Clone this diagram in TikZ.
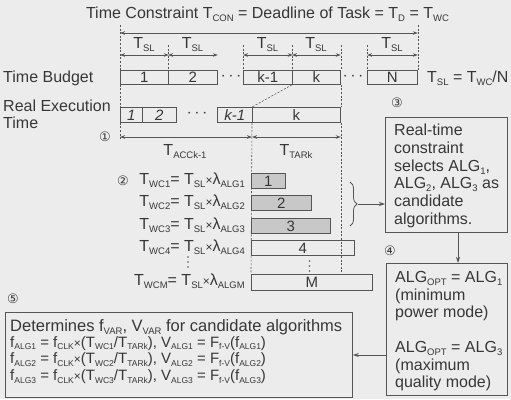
\documentclass[tikz,border=0pt]{standalone}
\usepackage{fontspec}
\setmainfont{Liberation Sans}
\newfontfamily\djv{DejaVu Sans}
\usetikzlibrary{arrows.meta,decorations.pathreplacing}
\newcommand\sbs[1]{\raisebox{-3pt}{\fontsize{9.5}{9.5}\selectfont #1}}
\newcommand\ssb[1]{\raisebox{-2.5pt}{\fontsize{8.5}{8.5}\selectfont #1}}
\newcommand\cnum[1]{{\djv\fontsize{13}{13}\selectfont #1}}
\newcommand\smx{{\fontsize{12}{12}\selectfont ×}}
\definecolor{bgc}{RGB}{236,236,236}
\definecolor{txtc}{RGB}{55,55,55}
\definecolor{linec}{RGB}{85,85,85}
\definecolor{barc}{RGB}{200,200,200}
\begin{document}
\begin{tikzpicture}[x=1pt,y=-1pt,
  every node/.style={text=txtc, font=\fontsize{16}{17}\selectfont},
  lbl/.style={inner sep=0pt},
  cell/.style={draw=linec, line width=0.8pt, inner sep=0pt, anchor=north west, minimum height=14pt, font=\fontsize{15}{15}\selectfont},
  bar/.style={cell, minimum height=15pt},
  gbar/.style={bar, fill=barc},
  guide/.style={draw=linec, line width=0.6pt, dash pattern=on 2pt off 1.6pt},
  dimline/.style={draw=linec, line width=0.8pt, {Stealth[length=5pt,width=3.6pt]}-{Stealth[length=5pt,width=3.6pt]}},
  conn/.style={draw=linec, line width=0.8pt, -{Stealth[length=6pt,width=4pt]}},
  box/.style={draw=linec, line width=0.9pt, inner sep=0pt, anchor=north west},
  para/.style={inner sep=0pt, anchor=north west, align=left},
  dotc/.style={fill=linec}
]
\fill[bgc] (0,0) rectangle (511,399);
\useasboundingbox (0,0) rectangle (511,399);

% title
\node[lbl, anchor=base] (title) at (267.5,18) {Time Constraint T\sbs{CON} = Deadline of Task = T\sbs{D} = T\sbs{WC}};

% row labels
\node[lbl, anchor=base west] (tb) at (3,82) {Time Budget};
\node[lbl, anchor=north west, align=left] (ret) at (3,100) {Real Execution\\Time};

% time budget cells
\node[cell, minimum width=48pt] (b1) at (120,70) {1};
\node[cell, minimum width=49pt] (b2) at (168,70) {2};
\node[cell, minimum width=49pt] (bk1) at (243,70) {k-1};
\node[cell, minimum width=48pt] (bk) at (292,70) {k};
\node[cell, minimum width=50pt] (bN) at (367,70) {N};
\node[lbl] (d1) at (231,77) {$\cdots$};
\node[lbl] (d2) at (353,77) {$\cdots$};
\node[lbl, anchor=base west] (tsl) at (427,82) {T\sbs{SL} = T\sbs{WC}/N};

% real execution cells
\node[bar, minimum width=22pt] (r1) at (120,107) {\itshape 1};
\node[bar, minimum width=34pt] (r2) at (142,107) {\itshape 2};
\node[bar, minimum width=35pt] (rk1) at (217,107) {\itshape k-1};
\node[bar, minimum width=88pt] (rk) at (252,107) {k};
\node[lbl] (d3) at (197,114) {$\cdots$};

% guide lines
\coordinate (gtop) at (0,25);
\coordinate (gsl) at (0,45);
\coordinate (g1) at (0,140);
\draw[guide] (b1.north west |- gtop) -- (b1.north west);
\draw[guide] (b1.south west) -- (r1.north west);
\draw[guide] (r1.south west) -- (r1.south west |- g1);
\draw[guide] (bN.north east |- gtop) -- (bN.north east);
\foreach \n in {b2,bk1,bk,bN} \draw[guide] (\n.north west |- gsl) -- (\n.north west);
\draw[guide] (bk.north east |- gsl) -- (bk.north east);
\draw[guide] (bk.south east) -- (rk.north east);
\draw[guide] (bk.south west) -- (rk.north west);

% dimension arrows
\coordinate (ya) at (0,33);
\coordinate (yb) at (0,55);
\draw[dimline] (b1.north west |- ya) -- (bN.north east |- ya);
\draw[dimline] (b1.north west |- yb) -- (b1.north east |- yb);
\draw[dimline] (b2.north west |- yb) -- (b2.north east |- yb);
\draw[dimline] (bk1.north west |- yb) -- (bk1.north east |- yb);
\draw[dimline] (bk.north west |- yb) -- (bk.north east |- yb);
\draw[dimline] (bN.north west |- yb) -- (bN.north east |- yb);
\foreach \n/\x in {s1/144,s2/192.5,s3/267.5,s4/316,s5/392}
  \node[lbl, anchor=base] (\n) at (\x,48) {T\sbs{SL}};

\coordinate (yc) at (0,137);
\draw[dimline] (r1.south west |- yc) -- (rk.south west |- yc);
\draw[dimline] (rk.south west |- yc) -- (rk.south east |- yc);
\node[lbl] (c1) at (105,137) {\cnum{①}};
\node[lbl, anchor=base] (tacc) at (185,155) {T\sbs{ACCk-1}};
\node[lbl, anchor=base] (ttar) at (296,155) {T\sbs{TARk}};

% candidate bars
\node[gbar, minimum width=34pt] (a1) at (251,173) {1};
\node[gbar, minimum width=60pt] (a2) at (251,195) {2};
\node[gbar, minimum width=79pt] (a3) at (251,218) {3};
\node[bar, minimum width=103pt] (a4) at (251,240) {4};
\node[bar, minimum width=121pt, minimum height=16pt] (aM) at (251,274) {M};
\foreach \y in {261,266,271} \fill[dotc] (309.5,\y) circle (0.9pt);

\draw[guide] (rk.south west) -- (aM.north west);
\draw[guide] (rk.south east) -- (rk.south east |- aM.north);

\node[lbl, anchor=base east] (e1) at (245,184.5) {T\sbs{WC1}= T\sbs{SL}\smx λ\sbs{ALG1}};
\node[lbl, anchor=base east] (e2) at (245,206.5) {T\sbs{WC2}= T\sbs{SL}\smx λ\sbs{ALG2}};
\node[lbl, anchor=base east] (e3) at (245,229.5) {T\sbs{WC3}= T\sbs{SL}\smx λ\sbs{ALG3}};
\node[lbl, anchor=base east] (e4) at (245,251.5) {T\sbs{WC4}= T\sbs{SL}\smx λ\sbs{ALG4}};
\node[lbl, anchor=base east] (eM) at (245,285.5) {T\sbs{WCM}= T\sbs{SL}\smx λ\sbs{ALGM}};
\foreach \y in {257,262,267} \fill[dotc] (188,\y) circle (0.9pt);
\node[lbl] (c2) at (123,181) {\cnum{②}};

% brace
\draw[linec, line width=0.8pt, decorate, decoration={brace, amplitude=7pt}] (350,182) -- (350,226);
\coordinate (btip) at (358,204);

% box 3
\node[box, minimum width=122pt, minimum height=115pt] (b3) at (385,117) {};
\node[para, font=\fontsize{16}{17.7}\selectfont] (t3) at (394,124) {Real-time\\constraint\\selects ALG\sbs{1},\\ALG\sbs{2}, ALG\sbs{3} as\\candidate\\algorithms.};
\node[lbl] (c3) at (397,103) {\cnum{③}};
\draw[conn] (btip) -- (b3.west |- btip);

% box 4
\node[box, minimum width=121pt, minimum height=132pt] (b4) at (386,263) {};
\node[para, font=\fontsize{16}{17.5}\selectfont] (t4) at (395,271.5) {ALG\sbs{OPT} = ALG\sbs{1}\\(minimum\\power mode)\\[17.5pt]ALG\sbs{OPT} = ALG\sbs{3}\\(maximum\\quality mode)};
\node[lbl] (c4) at (390,251) {\cnum{④}};
\coordinate (x34) at (458,0);
\draw[conn] (b3.south -| x34) -- (b4.north -| x34);

% box 5
\node[box, minimum width=347pt, minimum height=85pt] (b5) at (5,312) {};
\node[para, font=\fontsize{16.5}{16.8}\selectfont] (t5) at (10,319) {Determines f\sbs{VAR}, V\sbs{VAR} for candidate algorithms};
\node[para, font=\fontsize{15}{16.8}\selectfont] (t5b) at (10,336) {%
f\ssb{ALG1} = f\ssb{CLK}\smx(T\ssb{WC1}/T\ssb{TARk}), V\ssb{ALG1} = F\ssb{f-V}(f\ssb{ALG1})\\
f\ssb{ALG2} = f\ssb{CLK}\smx(T\ssb{WC2}/T\ssb{TARk}), V\ssb{ALG2} = F\ssb{f-V}(f\ssb{ALG2})\\
f\ssb{ALG3} = f\ssb{CLK}\smx(T\ssb{WC3}/T\ssb{TARk}), V\ssb{ALG3} = F\ssb{f-V}(f\ssb{ALG3})};
\node[lbl] (c5) at (13,299) {\cnum{⑤}};
\coordinate (y45) at (0,355);
\draw[conn] (b4.west |- y45) -- (b5.east |- y45);
\end{tikzpicture}
\end{document}
